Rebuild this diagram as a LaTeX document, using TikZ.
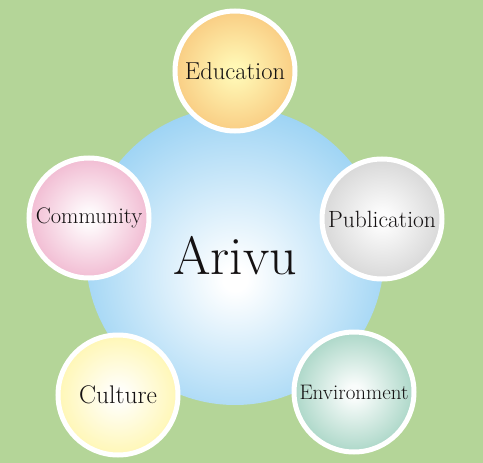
\documentclass[tikz,border=0pt]{standalone}
\usetikzlibrary{positioning}
\definecolor{Meadow}{HTML}{B4D598}
\definecolor{Ink}{HTML}{141112}
\definecolor{Sky}{HTML}{93CFF3}
\definecolor{Peach}{HTML}{F6B96C}
\definecolor{Rose}{HTML}{EB9DBE}
\definecolor{Silver}{HTML}{C6C6C6}
\definecolor{Lemon}{HTML}{FFF394}
\definecolor{Sea}{HTML}{86C5AF}
\colorlet{glowin}{white}
\colorlet{glowout}{Sky}
% gradient: light centre, full colour well before the rim
\pgfdeclareradialshading[glowin,glowout]{glow}{\pgfpoint{0bp}{0bp}}{color(0bp)=(glowin); color(3bp)=(glowin); color(36bp)=(glowout); color(50bp)=(glowout)}
\pgfdeclareradialshading[glowin,glowout]{hubglow}{\pgfpoint{0bp}{-4bp}}{color(0bp)=(glowin); color(2bp)=(glowin); color(30bp)=(glowout); color(60bp)=(glowout)}

\begin{document}
\begin{tikzpicture}[x=1pt,y=-1pt,
    hub/.style={circle,minimum size=298pt,inner sep=0pt,shading=hubglow,
      text=Ink,font=\fontsize{54}{54}\selectfont},
    petal/.style={circle,minimum size=120pt,inner sep=0pt,draw=white,
      line width=5pt,shading=glow,text=Ink}
  ]
    \fill[Meadow] (0,0) rectangle (483,463);
    \useasboundingbox (0,0) rectangle (483,463);
    \colorlet{glowin}{white}\colorlet{glowout}{Sky}
    \node[hub] (arivu) at (235,256) {Arivu};
    \foreach \name/\x/\y/\cin/\col/\fs/\txt in {
      edu/235/71/{Lemon!70!white}/Peach/24.5/Education,
      com/89/218/{Rose!5!white}/Rose/22.5/Community,
      pub/382/219/{Silver!5!white}/Silver/23.5/Publication,
      cul/118/395/{Lemon!5!white}/Lemon/25.5/Culture,
      env/354/392/{Sea!5!white}/Sea/21/Environment}{
      \colorlet{glowin}{\cin}\colorlet{glowout}{\col}
      \node[petal,font=\fontsize{\fs}{\fs}\selectfont] (\name) at (\x,\y) {\txt};
    }
  \end{tikzpicture}
\end{document}
